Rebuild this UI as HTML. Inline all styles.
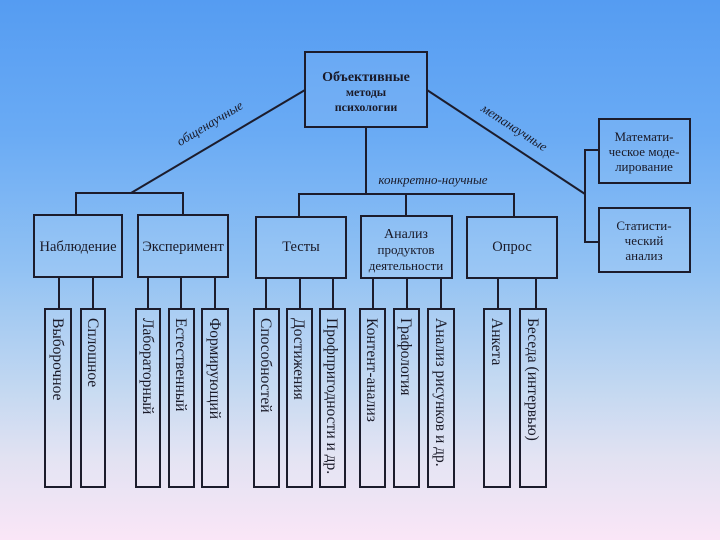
<!DOCTYPE html>
<html><head><meta charset="utf-8"><style>
html,body{margin:0;padding:0}
body{width:720px;height:540px;overflow:hidden;background:linear-gradient(to bottom,#559cf2 0%,#6aabf4 25%,#92c2f3 50%,#c3d8f1 72%,#e2e2f2 85%,#fae6f7 100%);font-family:"Liberation Serif","Noto Serif CJK SC",serif;}
svg{position:absolute;left:0;top:0}
</style></head><body>
<svg width="720" height="540" xmlns="http://www.w3.org/2000/svg">
<g stroke="#1c1c2c" stroke-width="2" fill="none">
<line x1="305" y1="90" x2="131" y2="193"/>
<polyline points="76,215 76,193 183,193 183,215"/>
<line x1="366" y1="127" x2="366" y2="194"/>
<polyline points="299,217 299,194 514,194 514,217"/>
<line x1="406" y1="194" x2="406" y2="216"/>
<line x1="427" y1="90" x2="585" y2="194"/>
<polyline points="599,150 585,150 585,242 599,242"/>
<line x1="59" y1="277" x2="59" y2="309"/><line x1="93" y1="277" x2="93" y2="309"/>
<line x1="148" y1="277" x2="148" y2="309"/><line x1="181" y1="277" x2="181" y2="309"/><line x1="215" y1="277" x2="215" y2="309"/>
<line x1="266" y1="278" x2="266" y2="309"/><line x1="300" y1="278" x2="300" y2="309"/><line x1="333" y1="278" x2="333" y2="309"/>
<line x1="373" y1="278" x2="373" y2="309"/><line x1="407" y1="278" x2="407" y2="309"/><line x1="441" y1="278" x2="441" y2="309"/>
<line x1="498" y1="278" x2="498" y2="309"/><line x1="536" y1="278" x2="536" y2="309"/>
</g>
<g stroke="#1c1c2c" stroke-width="2" fill="rgba(255,255,255,0.08)">
<rect x="305" y="52" width="122" height="75"/>
<rect x="34" y="215" width="88" height="62"/>
<rect x="138" y="215" width="90" height="62"/>
<rect x="256" y="217" width="90" height="61"/>
<rect x="361" y="216" width="91" height="62"/>
<rect x="467" y="217" width="90" height="61"/>
<rect x="599" y="119" width="91" height="64"/>
<rect x="599" y="208" width="91" height="64"/>
<rect x="45" y="309" width="26" height="178"/><rect x="81" y="309" width="24" height="178"/>
<rect x="136" y="309" width="24" height="178"/><rect x="169" y="309" width="25" height="178"/><rect x="202" y="309" width="26" height="178"/>
<rect x="254" y="309" width="25" height="178"/><rect x="287" y="309" width="25" height="178"/><rect x="320" y="309" width="25" height="178"/>
<rect x="360" y="309" width="25" height="178"/><rect x="394" y="309" width="25" height="178"/><rect x="428" y="309" width="26" height="178"/>
<rect x="484" y="309" width="26" height="178"/><rect x="520" y="309" width="26" height="178"/>
</g>
<g fill="#1a1a28" font-family="Liberation Serif, serif" text-anchor="middle">
<text x="366" y="81" font-size="14" font-weight="bold">Объективные</text>
<text x="366" y="96" font-size="12" font-weight="bold">методы</text>
<text x="366" y="111" font-size="12" font-weight="bold">психологии</text>
<text x="78" y="251" font-size="14.5">Наблюдение</text>
<text x="183" y="251" font-size="14.5">Эксперимент</text>
<text x="301" y="251" font-size="14.5">Тесты</text>
<text x="406" y="238" font-size="14">Анализ</text>
<text x="406" y="254" font-size="13">продуктов</text>
<text x="406" y="270" font-size="13">деятельности</text>
<text x="512" y="251" font-size="14.5">Опрос</text>
<text x="644" y="141" font-size="13">Математи-</text>
<text x="644" y="156" font-size="13">ческое моде-</text>
<text x="644" y="171" font-size="13">лирование</text>
<text x="644" y="230" font-size="13">Статисти-</text>
<text x="644" y="245" font-size="13">ческий</text>
<text x="644" y="260" font-size="13">анализ</text>
<g font-style="italic" font-size="13">
<text transform="translate(212,127) rotate(-31)">общенаучные</text>
<text transform="translate(512,131) rotate(33)">метанаучные</text>
<text x="433" y="184">конкретно-научные</text>
</g>
<g font-size="15.5" text-anchor="start">
<text transform="translate(53,318) rotate(90)">Выборочное</text>
<text transform="translate(88,318) rotate(90)">Сплошное</text>
<text transform="translate(143,318) rotate(90)">Лабораторный</text>
<text transform="translate(176,318) rotate(90)">Естественный</text>
<text transform="translate(210,318) rotate(90)">Формирующий</text>
<text transform="translate(261,318) rotate(90)">Способностей</text>
<text transform="translate(294,318) rotate(90)">Достижения</text>
<text transform="translate(327,318) rotate(90)">Профпригодности и др.</text>
<text transform="translate(367,318) rotate(90)">Контент-анализ</text>
<text transform="translate(401,318) rotate(90)">Графология</text>
<text transform="translate(436,318) rotate(90)">Анализ рисунков и др.</text>
<text transform="translate(492,318) rotate(90)">Анкета</text>
<text transform="translate(528,318) rotate(90)">Беседа (интервью)</text>
</g>
</g>
</svg>
</body></html>
